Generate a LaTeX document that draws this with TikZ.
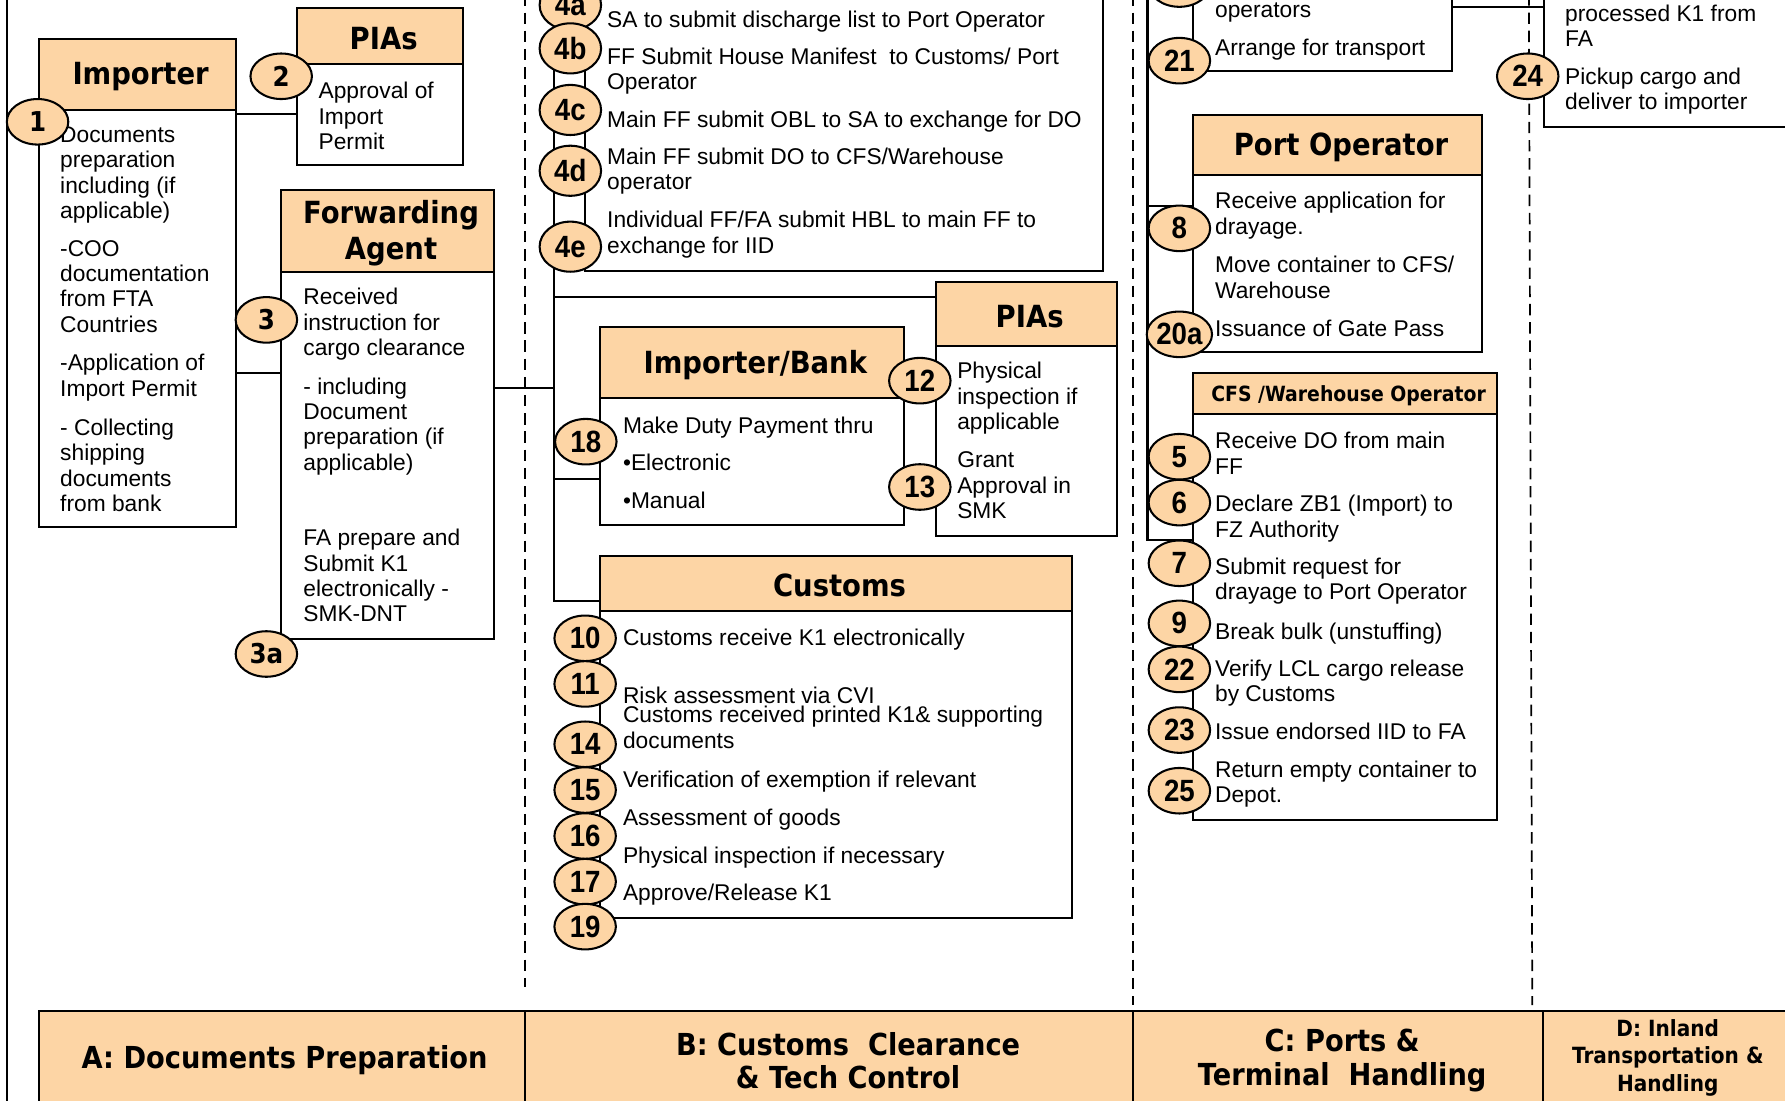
\documentclass[tikz,border=0pt]{standalone}
\usepackage{fontspec}
\setmainfont{Liberation Sans}
\newfontfamily\hdfont[FakeStretch=0.9]{DejaVu Sans}
\newfontfamily\numfont[FakeStretch=0.9]{Liberation Sans}
\usetikzlibrary{shapes.geometric, positioning, fit}
\definecolor{peach}{RGB}{253,213,165}

\begin{document}
\begin{tikzpicture} [
						x=0.5pt, y=-0.5pt,
						line width=0.9pt,
						hdr/.style={draw, fill=peach, inner sep=0pt},
						title/.style={inner sep=0pt, align=center, xshift=1.5pt, yshift=-1pt, font=\hdfont\bfseries\fontsize{13.4}{15.7}\selectfont},
						panel/.style={draw, fill=white, inner sep=0pt},
						txt/.style={anchor=north west, yshift=4.3pt, inner sep=0pt, align=left, font=\fontsize{10}{11.15}\selectfont, execute at begin node=\strut},
						num/.style={ellipse, draw, fill=peach, inner sep=0pt, minimum width=27pt, minimum height=20pt, font=\numfont\bfseries\fontsize{13.5}{13.5}\selectfont},
						numA/.style={num, font=\hdfont\bfseries\fontsize{12}{12}\selectfont},
						tall/.style={minimum height=22pt},
						divider/.style={line width=0.75pt, dash pattern=on 5pt off 3pt},
						band/.style={draw, fill=peach, inner sep=0pt},
						bandtxt/.style={inner sep=0pt, align=center, font=\hdfont\bfseries\fontsize{13.3}{14.5}\selectfont}
					]

\path[use as bounding box] (0,0) rectangle (1568,967);
\clip (0,0) rectangle (1568,967);

\draw[line width=0.6pt] (6,-5) -- (6,975);
\draw[divider] (461,-5) -- (461,867);
\draw[divider] (995,-5) -- (995,883);
\draw[divider] (1343,-5) -- (1346,883);

% A: documents preparation
\node (imph) [hdr, fit={(34,34) (207,97)}] {};
\node (impb) [panel, fit={(34,97) (207,463)}] {};
\node (pia1h) [hdr, fit={(261,7) (407,56)}] {};
\node (pia1b) [panel, fit={(261,56) (407,145)}] {};
\node (fah) [hdr, fit={(247,167) (434,239)}] {};
\node (fab) [panel, fit={(247,239) (434,561)}] {};
\node (impt) [title] at (imph.center) {Importer};
\node (pia1t) [title] at (pia1h.center) {PIAs};
\node (fat) [title] at (fah.center) {Forwarding\\Agent};

\node (imp1) [txt] at (52,119) {Documents\\preparation\\including (if\\applicable)};
\node (imp2) [txt] at (52,218.7) {-COO\\documentation\\from FTA\\Countries};
\node (imp3) [txt] at (52,319) {-Application of\\Import Permit};
\node (imp4) [txt] at (52,375.8) {- Collecting\\shipping\\documents\\from bank};
\node (pia1) [txt] at (279,80) {Approval of\\Import\\Permit};
\node (fa1) [txt] at (265.6,261) {Received\\instruction for\\cargo clearance};
\node (fa2) [txt] at (265.6,339.4) {- including\\Document\\preparation (if\\applicable)};
\node (fa3) [txt] at (265.6,472.5) {FA prepare and\\Submit K1\\electronically -\\SMK-DNT};

% B: customs clearance
\node (ffb) [panel, fit={(514,-40) (969,238)}] {};
\node (pia2h) [hdr, fit={(822,248) (981,304)}] {};
\node (pia2b) [panel, fit={(822,304) (981,470.5)}] {};
\node (ibh) [hdr, fit={(527,287.5) (794,350)}] {};
\node (ibb) [panel, fit={(527,350) (794,461)}] {};
\node (cush) [hdr, fit={(527,488) (942,536.4)}] {};
\node (cusb) [panel, fit={(527,536.4) (942,806)}] {};
\node (pia2t) [title] at (pia2h.center) {PIAs};
\node (ibt) [title] at (ibh.center) {Importer/Bank};
\node (cust) [title] at (cush.center) {Customs};

\node (ff1) [txt] at (532.5,16.1) {SA to submit discharge list to Port Operator};
\node (ff2) [txt] at (532.5,49.8) {FF Submit House Manifest\ \ to Customs/ Port\\Operator};
\node (ff3) [txt] at (532.5,104.5) {Main FF submit OBL to SA to exchange for DO};
\node (ff4) [txt] at (532.5,137.6) {Main FF submit DO to CFS/Warehouse\\operator};
\node (ff5) [txt] at (532.5,193.3) {Individual FF/FA submit HBL to main FF to\\exchange for IID};
\node (pia2a) [txt] at (840,325.9) {Physical\\inspection if\\applicable};
\node (pia2c) [txt] at (840,404.7) {Grant\\Approval in\\SMK};
\node (ib1) [txt] at (546.4,372.5) {Make Duty Payment thru};
\node (ib2) [txt] at (546.4,405.5) {•Electronic};
\node (ib3) [txt] at (546.4,438.6) {•Manual};
\node (cus1) [txt] at (546.4,559.3) {Customs receive K1 electronically};
\node (cus2) [txt] at (546.4,610.5) {Risk assessment via CVI};
\node (cus3) [txt] at (546.4,628.1) {Customs received printed K1\& supporting\\documents};
\node (cus4) [txt] at (546.4,683.7) {Verification of exemption if relevant};
\node (cus5) [txt] at (546.4,716.8) {Assessment of goods};
\node (cus6) [txt] at (546.4,750.2) {Physical inspection if necessary};
\node (cus7) [txt] at (546.4,783.3) {Approve/Release K1};

% C: ports and terminal
\node (ctopb) [panel, fit={(1048,-40) (1275.5,62.4)}] {};
\node (poh) [hdr, fit={(1048,101) (1302,153.7)}] {};
\node (pob) [panel, fit={(1048,153.7) (1302,309.5)}] {};
\node (cfsh) [hdr, fit={(1048,328) (1315.4,364)}] {};
\node (cfsb) [panel, fit={(1048,364) (1315.4,720.3)}] {};
\node (pot) [title] at (poh.center) {Port Operator};
\node (cfst) [title, font=\hdfont\bfseries\fontsize{9.2}{10}\selectfont] at (cfsh.center) {CFS /Warehouse Operator};

\node (ct1) [txt] at (1066.5,7.3) {operators};
\node (ct2) [txt] at (1066.5,41) {Arrange for transport};
\node (po1) [txt] at (1066.5,176.6) {Receive application for\\drayage.};
\node (po2) [txt] at (1066.5,232.8) {Move container to CFS/\\Warehouse};
\node (po3) [txt] at (1066.5,287.5) {Issuance of Gate Pass};
\node (cfs1) [txt] at (1066.5,387.4) {Receive DO from main\\FF};
\node (cfs2) [txt] at (1066.5,442.7) {Declare ZB1 (Import) to\\FZ Authority};
\node (cfs3) [txt] at (1066.5,497.8) {Submit request for\\drayage to Port Operator};
\node (cfs4) [txt] at (1066.5,554) {Break bulk (unstuffing)};
\node (cfs5) [txt] at (1066.5,587.1) {Verify LCL cargo release\\by Customs};
\node (cfs6) [txt] at (1066.5,642.1) {Issue endorsed IID to FA};
\node (cfs7) [txt] at (1066.5,675.8) {Return empty container to\\Depot.};

% D: inland transport
\node (dboxb) [panel, fit={(1356,-40) (1600,111.5)}] {};
\node (d1) [txt] at (1374,11.7) {processed K1 from\\FA};
\node (d2) [txt] at (1374,67.3) {Pickup cargo and\\deliver to importer};

% connectors
\coordinate (spB) at (487,-20);
\coordinate (spC) at (1008,-20);
\coordinate (l2) at ([yshift=-1.9pt]impb.north east);
\coordinate (l3) at ([yshift=-24pt]impb.east);
\coordinate (l4) at ([yshift=29.5pt]fab.east);
\coordinate (l5) at ([yshift=7.5pt]pia2h.west);
\coordinate (l6) at ([yshift=-7.75pt]ibb.west);
\coordinate (l7) at ([yshift=25.45pt]pob.west);
\coordinate (l8) at ([yshift=2.4pt]ctopb.east);
\draw (l2) -- (l2 -| pia1b.west);
\draw (l3) -- (l3 -| fab.west);
\draw (l4) -- (l4 -| spB);
\draw (spB) |- ([yshift=-8pt]cush.west);
\draw (l5) -- (l5 -| spB);
\draw (l6) -- (l6 -| spB);
\draw (spC) |- ([yshift=33.85pt]cfsb.west);
\draw (l7) -- (l7 -| spC);
\draw (l8) -- (l8 -| dboxb.west);

% step numbers
\node (n1) [numA] at (33,107) {1};
\node (n2) [numA] at (247,67) {2};
\node (n3) [numA] at (234,281) {3};
\node (n3a) [numA] at (234,574.5) {3a};
\node (n4a) [num, tall] at (501,4.4) {4a};
\node (n4b) [num, tall] at (501,42.5) {4b};
\node (n4c) [num, tall] at (501,96.6) {4c};
\node (n4d) [num, tall] at (501,150) {4d};
\node (n4e) [num, tall] at (501,216.7) {4e};
\node (n12) [num] at (808,334.4) {12};
\node (n13) [num] at (808,427.8) {13};
\node (n18) [num] at (514.6,388) {18};
\node (n10) [num] at (514,560.7) {10};
\node (n11) [num] at (514,600.8) {11};
\node (n14) [num] at (514,653.8) {14};
\node (n15) [num] at (514,694) {15};
\node (n16) [num] at (514,734.4) {16};
\node (n17) [num] at (514,774.5) {17};
\node (n19) [num] at (514,814) {19};
\node (n20) [num] at (1036,-14) {};
\node (n21) [num] at (1036,53.3) {21};
\node (n8) [num] at (1036,200.6) {8};
\node (n20a) [num] at (1036,293.7) {20a};
\node (n5) [num] at (1036,401.2) {5};
\node (n6) [num] at (1036,441.5) {6};
\node (n7) [num] at (1036,494.8) {7};
\node (n9) [num] at (1036,547.6) {9};
\node (n22) [num] at (1036,588) {22};
\node (n23) [num] at (1036,641.3) {23};
\node (n25) [num] at (1036,694.6) {25};
\node (n24) [num] at (1342,67) {24};

% stages
\node (bandA) [band, fit={(34,888) (461,973)}] {};
\node (bandB) [band, fit={(461,888) (995.5,973)}] {};
\node (bandC) [band, fit={(995.5,888) (1355,973)}] {};
\node (bandD) [band, fit={(1355,888) (1580,973)}] {};
\node (labA) [bandtxt] at (250,931) {A: Documents Preparation};
\node (labB) [bandtxt] at (745,932) {B: Customs\ \ Clearance\\\& Tech Control};
\node (labC) [bandtxt] at (1179,931.6) {C: Ports \&\\Terminal\ \ Handling};
\node (labD) [bandtxt, font=\hdfont\bfseries\fontsize{9.8}{12.1}\selectfont] at (1465,929) {D: Inland\\Transportation \&\\Handling};
\end{tikzpicture}
\end{document}
